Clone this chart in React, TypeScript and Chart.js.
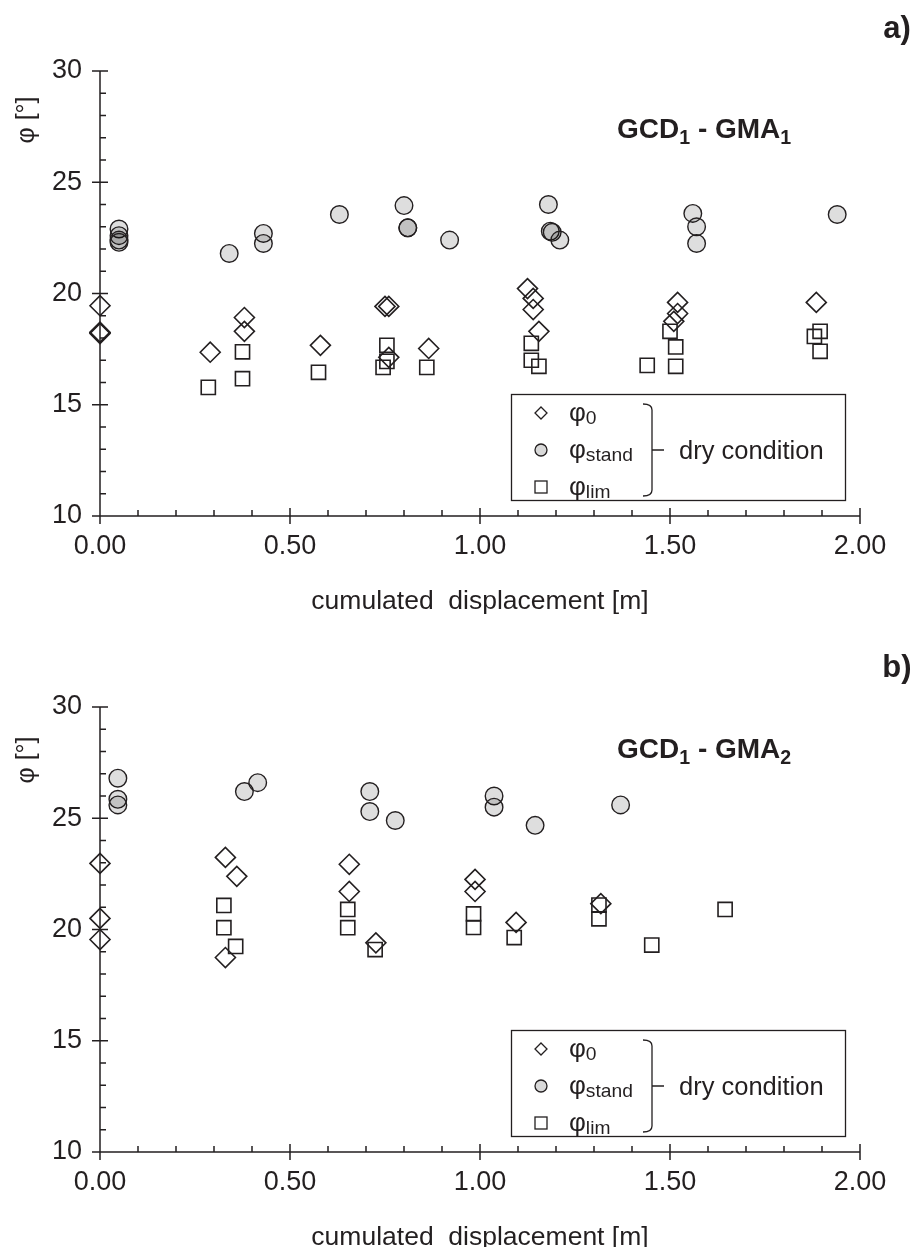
import React, { useEffect, useRef } from 'react';
import { Chart, registerables } from 'chart.js';

Chart.register(...registerables);

type Pt = [number, number];

// ---- axis ticks ----
const xTickValues = [0, 0.5, 1, 1.5, 2];
const xTickLabels = ['0.00', '0.50', '1.00', '1.50', '2.00'];
const yTickValues = [10, 15, 20, 25, 30];
const yTickLabels = ['10', '15', '20', '25', '30'];

// ---- panel a) GCD1 - GMA1 ----
const aPhi0: Pt[] = [
  [0, 19.45], [0, 18.25], [0, 18.25], [0, 18.2],
  [0.29, 17.36], [0.38, 18.92], [0.38, 18.3], [0.58, 17.67],
  [0.75, 19.42], [0.76, 19.42], [0.76, 17.13], [0.865, 17.53],
  [1.125, 20.22], [1.14, 19.78], [1.14, 19.28], [1.155, 18.3],
  [1.52, 19.6], [1.52, 19.1], [1.51, 18.75], [1.885, 19.6],
];
const aPhiStand: Pt[] = [
  [0.05, 22.9], [0.05, 22.6], [0.05, 22.4], [0.05, 22.3],
  [0.34, 21.8], [0.43, 22.7], [0.43, 22.25], [0.63, 23.55],
  [0.8, 23.95], [0.81, 22.95], [0.81, 22.95], [0.92, 22.4],
  [1.18, 24.0], [1.185, 22.8], [1.19, 22.75], [1.21, 22.4],
  [1.56, 23.6], [1.57, 23.0], [1.57, 22.25], [1.94, 23.55],
];
const aPhiLim: Pt[] = [
  [0.285, 15.78], [0.375, 17.38], [0.375, 16.17], [0.575, 16.46],
  [0.755, 17.67], [0.755, 16.95], [0.745, 16.68], [0.86, 16.68],
  [1.135, 17.76], [1.135, 17.0], [1.155, 16.73], [1.44, 16.77],
  [1.5, 18.3], [1.515, 17.6], [1.515, 16.73],
  [1.88, 18.07], [1.895, 18.3], [1.895, 17.4],
];

// ---- panel b) GCD1 - GMA2 ----
const bPhi0: Pt[] = [
  [0, 22.97], [0, 20.5], [0, 19.55],
  [0.33, 23.24], [0.33, 18.74], [0.36, 22.39],
  [0.656, 22.93], [0.656, 21.71], [0.726, 19.4],
  [0.987, 22.25], [0.987, 21.71], [1.095, 20.32], [1.318, 21.16],
];
const bPhiStand: Pt[] = [
  [0.047, 26.8], [0.047, 25.85], [0.047, 25.6],
  [0.38, 26.2], [0.415, 26.6],
  [0.71, 26.2], [0.71, 25.3], [0.777, 24.9],
  [1.037, 26.0], [1.037, 25.5], [1.145, 24.68], [1.37, 25.6],
];
const bPhiLim: Pt[] = [
  [0.326, 21.08], [0.326, 20.08], [0.357, 19.24],
  [0.652, 20.9], [0.652, 20.08], [0.724, 19.1],
  [0.983, 20.7], [0.983, 20.09], [1.09, 19.64],
  [1.313, 21.1], [1.313, 20.48], [1.452, 19.3], [1.645, 20.9],
];

const INK = '#231f20';
const FONT = '"Liberation Sans", Arial, Helvetica, sans-serif';
const STAND_FILL = 'rgba(0,0,0,0.13)';

type Part = { t: string; sub?: boolean };

function drawRich(ctx: CanvasRenderingContext2D, parts: Part[], x: number, y: number, size: number, bold: boolean, subScale: number, subDrop: number) {
  let cx = x;
  for (const p of parts) {
    const s = p.sub ? size * subScale : size;
    ctx.font = `${bold ? 'bold ' : ''}${s}px ${FONT}`;
    ctx.fillText(p.t, cx, y + (p.sub ? subDrop : 0));
    cx += ctx.measureText(p.t).width;
  }
}

const decorPlugin = {
  id: 'decor',
  beforeDatasetsDraw(chart: any) {
    const { ctx, chartArea: ca, scales } = chart;
    const xs = scales.x;
    const ys = scales.y;
    ctx.save();
    ctx.strokeStyle = INK;
    ctx.lineWidth = 1.5;
    ctx.beginPath();
    ctx.moveTo(ca.left, ca.top);
    ctx.lineTo(ca.left, ca.bottom);
    ctx.lineTo(ca.right, ca.bottom);
    for (let i = 0; i <= 20; i++) {
      const v = ys.min + i;
      const py = ys.getPixelForValue(v);
      const major = i % 5 === 0;
      ctx.moveTo(ca.left - (major ? 8 : 0), py);
      ctx.lineTo(ca.left + (major ? 8 : 6), py);
    }
    for (let i = 0; i <= 20; i++) {
      const v = xs.min + i * 0.1;
      const px = xs.getPixelForValue(v);
      const major = i % 5 === 0;
      ctx.moveTo(px, ca.bottom + (major ? 8 : 0));
      ctx.lineTo(px, ca.bottom - (major ? 8 : 6));
    }
    ctx.stroke();
    ctx.restore();
  },
  afterDraw(chart: any, _args: any, opts: any) {
    const { ctx, chartArea: ca } = chart;
    const B = ca.bottom;
    ctx.save();
    ctx.fillStyle = INK;
    ctx.strokeStyle = INK;

    // panel tag
    ctx.font = `bold 31px ${FONT}`;
    ctx.textAlign = 'center';
    ctx.textBaseline = 'middle';
    ctx.fillText(opts.tag, 897, opts.tagY);

    // y-axis title
    ctx.save();
    ctx.translate(27, opts.yTitleY);
    ctx.rotate(-Math.PI / 2);
    ctx.font = `25px ${FONT}`;
    ctx.fillText('φ [°]', 0, 0);
    ctx.restore();

    // panel title
    ctx.textAlign = 'left';
    ctx.textBaseline = 'alphabetic';
    drawRich(ctx, opts.title, 617, opts.titleBase, 28, true, 0.7, 6);

    // legend box
    const L = 511, R = 845, top = B - 122, bot = B - 16;
    ctx.lineWidth = 1.3;
    ctx.strokeRect(L + 0.5, top + 0.5, R - L, bot - top);

    const rows = [B - 103, B - 66, B - 29];
    const mx = 541;
    // diamond
    ctx.beginPath();
    ctx.moveTo(mx, rows[0] - 6); ctx.lineTo(mx + 6, rows[0]); ctx.lineTo(mx, rows[0] + 6); ctx.lineTo(mx - 6, rows[0]); ctx.closePath();
    ctx.stroke();
    // circle
    ctx.beginPath();
    ctx.arc(mx, rows[1], 6, 0, Math.PI * 2);
    ctx.fillStyle = '#d9d9d9';
    ctx.fill();
    ctx.stroke();
    ctx.fillStyle = INK;
    // square
    ctx.strokeRect(mx - 6, rows[2] - 6, 12, 12);

    const labels: Part[][] = [
      [{ t: 'φ' }, { t: '0', sub: true }],
      [{ t: 'φ' }, { t: 'stand', sub: true }],
      [{ t: 'φ' }, { t: 'lim', sub: true }],
    ];
    labels.forEach((lab, i) => drawRich(ctx, lab, 569, rows[i] + 8, 26, false, 0.74, 3));

    // bracket
    ctx.lineWidth = 1.3;
    ctx.beginPath();
    ctx.moveTo(643, B - 112);
    ctx.quadraticCurveTo(652, B - 112, 652, B - 106);
    ctx.lineTo(652, B - 26);
    ctx.quadraticCurveTo(652, B - 20, 643, B - 20);
    ctx.moveTo(652, B - 66);
    ctx.lineTo(664, B - 66);
    ctx.stroke();

    ctx.font = `25.5px ${FONT}`;
    ctx.fillText('dry condition', 679, B - 57);
    ctx.restore();
  },
};

type PanelCfg = {
  phi0: Pt[];
  stand: Pt[];
  lim: Pt[];
  tag: string;
  tagY: number;
  title: Part[];
  titleBase: number;
  yTitleY: number;
};

const panelA: PanelCfg = {
  phi0: aPhi0, stand: aPhiStand, lim: aPhiLim,
  tag: 'a)', tagY: 29,
  title: [{ t: 'GCD' }, { t: '1', sub: true }, { t: ' - GMA' }, { t: '1', sub: true }],
  titleBase: 138, yTitleY: 120,
};
const panelB: PanelCfg = {
  phi0: bPhi0, stand: bPhiStand, lim: bPhiLim,
  tag: 'b)', tagY: 32,
  title: [{ t: 'GCD' }, { t: '1', sub: true }, { t: ' - GMA' }, { t: '2', sub: true }],
  titleBase: 122, yTitleY: 124,
};

const toXY = (pts: Pt[]) => pts.map(([x, y]) => ({ x, y }));

function buildConfig(p: PanelCfg): any {
  const common = { showLine: false, clip: false as any, borderColor: INK, pointBorderColor: INK };
  return {
    type: 'scatter',
    data: {
      datasets: [
        { ...common, label: 'φ0', data: toXY(p.phi0), pointStyle: 'rectRot', pointRadius: 10, pointBorderWidth: 1.6, backgroundColor: 'rgba(0,0,0,0)', pointBackgroundColor: 'rgba(0,0,0,0)' },
        { ...common, label: 'φstand', data: toXY(p.stand), pointStyle: 'circle', pointRadius: 8.8, pointBorderWidth: 1.4, backgroundColor: STAND_FILL, pointBackgroundColor: STAND_FILL },
        { ...common, label: 'φlim', data: toXY(p.lim), pointStyle: 'rect', pointRadius: 10, pointBorderWidth: 1.6, backgroundColor: 'rgba(0,0,0,0)', pointBackgroundColor: 'rgba(0,0,0,0)' },
      ],
    },
    options: {
      responsive: false,
      animation: false,
      events: [],
      layout: { padding: { top: 71, right: 60, left: 0, bottom: 0 } },
      plugins: {
        legend: { display: false },
        tooltip: { enabled: false },
        decor: { tag: p.tag, tagY: p.tagY, title: p.title, titleBase: p.titleBase, yTitleY: p.yTitleY },
      },
      scales: {
        x: {
          type: 'linear',
          min: 0,
          max: 2,
          grid: { display: false, drawTicks: false },
          border: { display: false },
          afterBuildTicks: (s: any) => { s.ticks = xTickValues.map((value) => ({ value })); },
          afterFit: (s: any) => { s.height = 120; },
          ticks: {
            autoSkip: false,
            maxRotation: 0,
            padding: 14,
            color: INK,
            font: { family: FONT, size: 27 },
            callback: (_v: any, i: number) => xTickLabels[i],
          },
          title: {
            display: true,
            text: 'cumulated  displacement [m]',
            color: INK,
            font: { family: FONT, size: 26.5 },
            padding: { top: 0, bottom: 18 },
          },
        },
        y: {
          type: 'linear',
          min: 10,
          max: 30,
          grid: { display: false, drawTicks: false },
          border: { display: false },
          afterBuildTicks: (s: any) => { s.ticks = yTickValues.map((value) => ({ value })); },
          afterFit: (s: any) => { s.width = 100; },
          ticks: {
            autoSkip: false,
            padding: 18,
            color: INK,
            font: { family: FONT, size: 27 },
            callback: (_v: any, i: number) => yTickLabels[i],
          },
        },
      },
    },
    plugins: [decorPlugin],
  };
}

function Panel({ cfg }: { cfg: PanelCfg }) {
  const ref = useRef<HTMLCanvasElement>(null);
  useEffect(() => {
    const chart = new Chart(ref.current as HTMLCanvasElement, buildConfig(cfg));
    return () => chart.destroy();
  }, [cfg]);
  return <canvas ref={ref} width={920} height={636} style={{ display: 'block', width: 920, height: 636 }} />;
}

export default function App() {
  return (
    <div style={{ position: 'absolute', left: 0, top: 0, width: 920, height: 1247, overflow: 'hidden', background: '#ffffff' }}>
      <Panel cfg={panelA} />
      <Panel cfg={panelB} />
    </div>
  );
}
